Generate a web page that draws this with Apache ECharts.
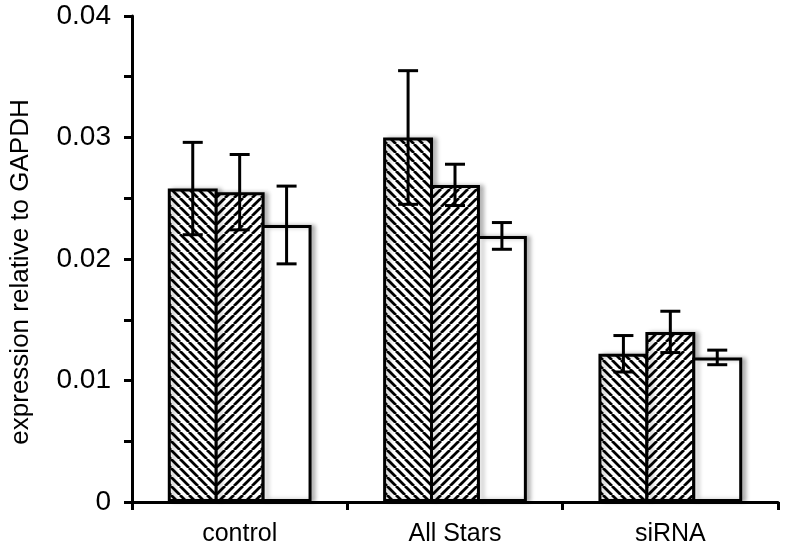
<!DOCTYPE html>
<html>
<head>
<meta charset="utf-8">
<script src="https://cdn.jsdelivr.net/npm/echarts@6/dist/echarts.min.js"></script>
<style>html,body{margin:0;padding:0;background:#fff}#c{width:786px;height:557px}</style>
</head>
<body>
<div id="c"></div>
<script>
const categories = ['control', 'All Stars', 'siRNA'];
const series1 = [0.0258, 0.0300, 0.0122];
const series2 = [0.0255, 0.0261, 0.0140];
const series3 = [0.0228, 0.0219, 0.0119];
const err1 = [0.0038, 0.0055, 0.0015];
const err2 = [0.0031, 0.0017, 0.0017];
const err3 = [0.0032, 0.0011, 0.0006];
const yTicks = [0, 0.01, 0.02, 0.03, 0.04];

function hatch(dir) {
  const p = 9;
  const c = document.createElement('canvas');
  c.width = p; c.height = p;
  const g = c.getContext('2d');
  g.fillStyle = '#fff'; g.fillRect(0, 0, p, p);
  g.strokeStyle = '#000'; g.lineWidth = 2.8;
  g.beginPath();
  for (let k = -1; k <= 1; k++) {
    if (dir === 'back') { g.moveTo(k * p, 0); g.lineTo(k * p + p, p); }
    else { g.moveTo(k * p, p); g.lineTo(k * p + p, 0); }
  }
  g.stroke();
  return { image: c, repeat: 'repeat' };
}

const barW = 0.2318;
const gapFrac = -0.06;
const step = barW * (1 + gapFrac);
function barStyle(fill) {
  return {
    color: fill, borderColor: '#000', borderWidth: 3,
    shadowColor: 'rgba(0,0,0,0.25)', shadowBlur: 4, shadowOffsetX: 4, shadowOffsetY: 0
  };
}
function errSeries(vals, errs, idx) {
  return {
    type: 'custom', z: 10,
    data: vals.map((v, i) => [i, v - errs[i], v + errs[i]]),
    encode: { x: 0, y: [1, 2] },
    renderItem: function (params, api) {
      const band = api.size([1, 0])[0];
      const off = (idx - 1) * band * step;
      const lo = api.coord([api.value(0), api.value(1)]);
      const hi = api.coord([api.value(0), api.value(2)]);
      const x = lo[0] + off, cw = 10;
      const st = { stroke: '#000', lineWidth: 3 };
      return { type: 'group', children: [
        { type: 'line', shape: { x1: x, y1: lo[1], x2: x, y2: hi[1] }, style: st },
        { type: 'line', shape: { x1: x - cw, y1: lo[1], x2: x + cw, y2: lo[1] }, style: st },
        { type: 'line', shape: { x1: x - cw, y1: hi[1], x2: x + cw, y2: hi[1] }, style: st }
      ]};
    }
  };
}

const chart = echarts.init(document.getElementById('c'));
const font = 'Liberation Sans, Arial, Helvetica, sans-serif';
chart.setOption({
  animation: false,
  backgroundColor: '#fff',
  grid: { left: 131, right: 8, top: 16, bottom: 55 },
  xAxis: {
    type: 'category', data: categories,
    axisLine: { lineStyle: { color: '#000', width: 3 } },
    axisTick: { show: true, length: 8, lineStyle: { color: '#000', width: 3 } },
    axisLabel: { color: '#000', fontSize: 25, fontFamily: font, margin: 20 }
  },
  yAxis: {
    type: 'value', min: 0, max: 0.04, interval: 0.01,
    name: 'expression relative to GAPDH', nameLocation: 'middle', nameGap: 98,
    nameTextStyle: { color: '#000', fontSize: 26, fontFamily: font, padding: [0, 26, 0, 0] },
    axisLine: { show: true, lineStyle: { color: '#000', width: 3 } },
    axisTick: { show: true, length: 8, lineStyle: { color: '#000', width: 3 } },
    minorTick: { show: true, splitNumber: 2, length: 8, lineStyle: { color: '#000', width: 3 } },
    splitLine: { show: false },
    axisLabel: { color: '#000', fontSize: 28, fontFamily: font, margin: 21,
      formatter: v => { const t = yTicks.find(q => Math.abs(q - v) < 1e-9); return t === 0 ? '0' : String(t); } }
  },
  series: [
    { type: 'bar', data: series1, barWidth: (barW * 100) + '%', barGap: (gapFrac * 100) + '%', itemStyle: barStyle(hatch('back')) },
    { type: 'bar', data: series2, barWidth: (barW * 100) + '%', barGap: (gapFrac * 100) + '%', itemStyle: barStyle(hatch('fwd')) },
    { type: 'bar', data: series3, barWidth: (barW * 100) + '%', barGap: (gapFrac * 100) + '%', itemStyle: barStyle('#fff') },
    errSeries(series1, err1, 0),
    errSeries(series2, err2, 1),
    errSeries(series3, err3, 2)
  ]
});
</script>
</body>
</html>
